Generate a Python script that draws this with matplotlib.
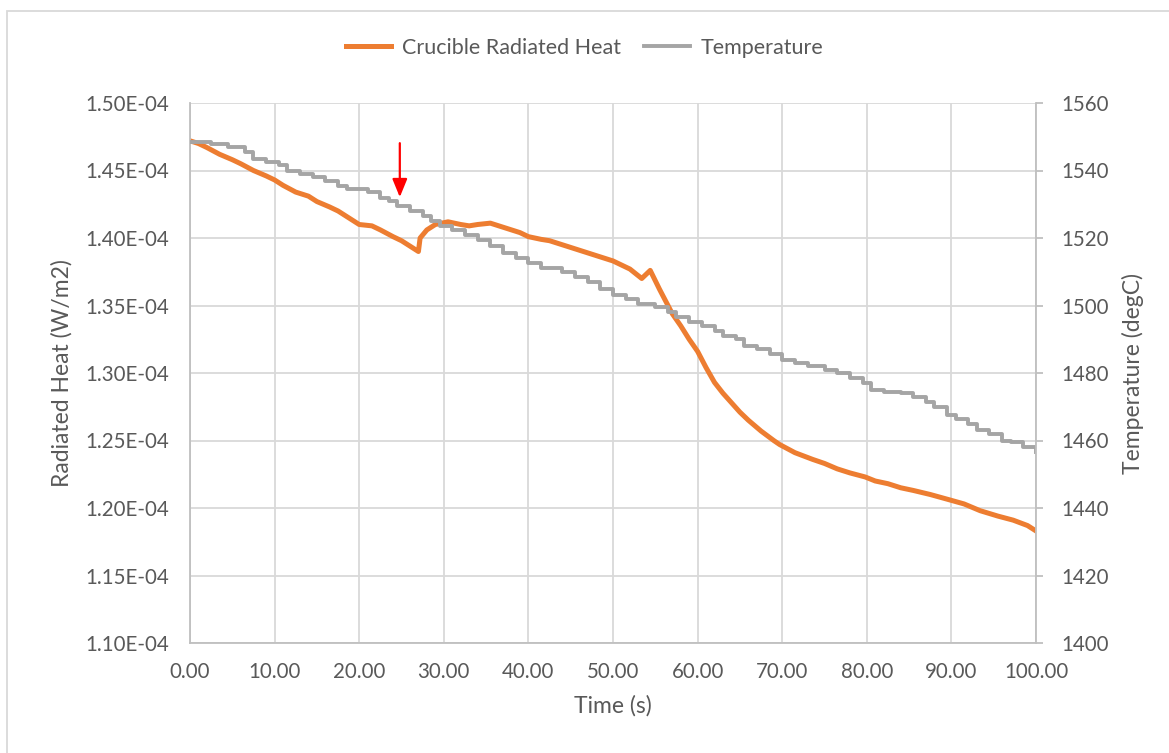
import matplotlib.pyplot as plt
from matplotlib.patches import Rectangle
from matplotlib.ticker import FuncFormatter

plt.rcParams['font.family'] = ['Lato', 'DejaVu Sans']

# Crucible radiated heat (W/m2), in units of 1e-4
heat_t = [0, 1, 2, 3.5, 5, 6, 7.5, 9, 10, 11, 12.5, 14, 15, 16.5, 17.5, 19, 20,
          21.5, 22.5, 24, 25, 26, 27, 27.2, 28, 29, 30.5, 32, 33, 34, 35.5, 37,
          38, 39, 40, 41.5, 42.5, 44, 45, 46.5, 47.5, 49, 50, 51, 52, 53.4, 54.4,
          55.5, 57, 58, 59, 60, 61, 62, 63, 64, 65, 66, 67.5, 69, 69.7, 71.5,
          73.6, 75, 76.5, 78, 79.8, 81, 82.5, 84, 85.5, 87.5, 89.8, 91.5, 93.4,
          95.5, 97.3, 99, 100]
heat_v = [1.472, 1.470, 1.467, 1.462, 1.458, 1.455, 1.450, 1.446, 1.443, 1.439,
          1.434, 1.431, 1.427, 1.423, 1.420, 1.414, 1.410, 1.409, 1.406, 1.401,
          1.398, 1.394, 1.390, 1.400, 1.406, 1.410, 1.412, 1.410, 1.409, 1.410,
          1.411, 1.408, 1.406, 1.404, 1.401, 1.399, 1.398, 1.395, 1.393, 1.390,
          1.388, 1.385, 1.383, 1.380, 1.377, 1.370, 1.376, 1.362, 1.344, 1.335,
          1.325, 1.316, 1.304, 1.293, 1.285, 1.278, 1.271, 1.265, 1.257, 1.250,
          1.247, 1.241, 1.236, 1.233, 1.229, 1.226, 1.223, 1.220, 1.218, 1.215,
          1.213, 1.210, 1.206, 1.203, 1.198, 1.194, 1.191, 1.187, 1.183]
heat_v = [v * 1e-4 for v in heat_v]

# Temperature (degC), stepwise readings
temp_t = [0, 2.5, 4.5, 6.5, 7.5, 9, 10.5, 11.5, 13, 14.5, 16, 17.5, 18.5, 21, 22.5,
          23.5, 24.5, 26, 27.5, 28.5, 29.5, 31, 32.5, 34, 35.5, 37, 38.5, 40, 41.5,
          44, 45.5, 47, 48.5, 50, 51.5, 53, 55, 56.5, 57.5, 59, 60.5, 62, 63, 64.5,
          65.5, 67, 68.5, 70, 71.5, 73, 75, 76.5, 78, 79.5, 80.5, 82, 84, 85.5, 87,
          88, 89.5, 90.5, 92, 93, 94.5, 96, 97, 98.5, 100]
temp_v = [1548.5, 1548, 1547, 1545.5, 1543.5, 1542.5, 1541.5, 1540, 1539, 1538,
          1537, 1535.5, 1534.5, 1533.5, 1532, 1531, 1529.5, 1528, 1526.5, 1525,
          1523.5, 1522.5, 1521, 1519.5, 1517.5, 1515.5, 1514, 1512.5, 1511, 1510,
          1508.5, 1507, 1505, 1503, 1502, 1500.5, 1499.5, 1498, 1496.5, 1495, 1494,
          1492.5, 1491, 1490, 1488, 1487, 1485.5, 1484, 1483, 1482, 1481, 1480,
          1478.5, 1477, 1475, 1474.5, 1474, 1473, 1471.5, 1470, 1467.5, 1466.5,
          1465, 1463, 1462, 1460, 1459.5, 1458, 1456.5]

orange = '#ED7D31'
grey = '#A5A5A5'
txt = '#595959'
grid_c = '#D9D9D9'
spine_c = '#BFBFBF'

fig = plt.figure(figsize=(11.69, 7.53), dpi=100)
ax = fig.add_axes([190 / 1169, 1 - 643 / 753, (1036 - 190) / 1169, (643 - 103) / 753])
ax2 = ax.twinx()

# outer chart border
fig.patches.append(Rectangle((7 / 1169, -0.01), 1.1, 1 - 11 / 753 + 0.01,
                             transform=fig.transFigure, fill=False,
                             edgecolor='#D9D9D9', linewidth=1.3))

l1, = ax.plot(heat_t, heat_v, color=orange, linewidth=3.6, label='Crucible Radiated Heat')
l2, = ax2.plot(temp_t, temp_v, color=grey, linewidth=2.8, drawstyle='steps-post',
               label='Temperature')

ax.set_xlim(0, 100)
ax.set_ylim(1.10e-4, 1.50e-4)
ax2.set_ylim(1400, 1560)
ax.set_xticks(range(0, 101, 10))
ax.set_yticks([1.10e-4 + i * 0.05e-4 for i in range(9)])
ax2.set_yticks(range(1400, 1561, 20))
ax.xaxis.set_major_formatter(FuncFormatter(lambda v, p: f'{v:.2f}'))
ax.yaxis.set_major_formatter(FuncFormatter(lambda v, p: f'{v:.2E}'))

ax.grid(True, color=grid_c, linewidth=1.3)
ax.set_axisbelow(True)

for a in (ax, ax2):
    for s in a.spines.values():
        s.set_visible(False)
ax.spines['left'].set_visible(True)
ax.spines['bottom'].set_visible(True)
ax2.spines['right'].set_visible(True)
for s in ('left', 'bottom'):
    ax.spines[s].set_color(spine_c)
    ax.spines[s].set_linewidth(1.3)
ax2.spines['right'].set_color(spine_c)
ax2.spines['right'].set_linewidth(1.3)

ax.tick_params(axis='both', length=0, labelsize=14.8, labelcolor=txt)
ax.tick_params(axis='y', pad=15)
ax.tick_params(axis='x', pad=14)
ax2.tick_params(axis='y', length=5, width=1.3, color=spine_c, labelsize=14.8,
                labelcolor=txt, pad=13)

ax.set_xlabel('Time (s)', fontsize=16.5, color=txt, labelpad=9)
ax.set_ylabel('Radiated Heat (W/m2)', fontsize=16.5, color=txt, labelpad=9)
ax2.set_ylabel('Temperature (degC)', fontsize=16.5, color=txt, labelpad=10)

# red arrow marker
ax2.annotate('', xy=(24.8, 1532.1), xytext=(24.8, 1548.1),
             arrowprops=dict(arrowstyle='-|>,head_width=0.45,head_length=1.1',
                             color='red', linewidth=1.6, shrinkA=0, shrinkB=0))

fig.legend(handles=[l1, l2], loc='center', bbox_to_anchor=(0.5, 1 - 48 / 753),
           ncol=2, frameon=False, fontsize=15.5, handlelength=2.1,
           handletextpad=0.5, columnspacing=1.1, labelcolor=txt)

fig.savefig('out.png', dpi=100)
